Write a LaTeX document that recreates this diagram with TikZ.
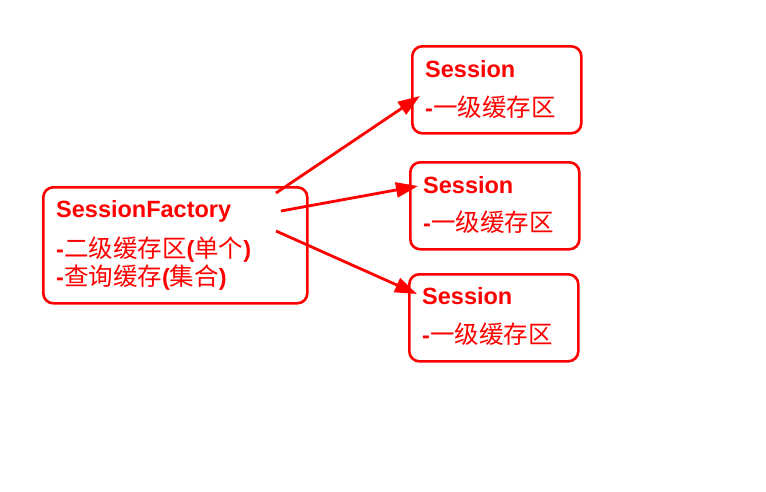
\documentclass[tikz,border=0pt]{standalone}
\usepackage{fontspec}
\setmainfont{Liberation Sans}
\newfontfamily\cjk{Noto Sans CJK SC}
\usetikzlibrary{arrows.meta}
\newcommand{\zh}[1]{{\fontsize{24.5}{28}\selectfont\cjk #1}}
\begin{document}
\begin{tikzpicture}[x=1pt,y=-1pt,
  box/.style={draw=red, line width=2.6pt, rounded corners=10pt, anchor=north west, inner sep=0pt},
  lbl/.style={anchor=base west, inner sep=0pt, text=red, font=\fontsize{23.5}{28}\selectfont\bfseries},
  txt/.style={anchor=base west, inner sep=0pt, text=red, font=\fontsize{23.5}{28}\selectfont},
  conn/.style={draw=red, line width=2.8pt, -{Triangle[length=22pt,width=15pt]}}]
\useasboundingbox (0,0) rectangle (766,491);
% boxes
\node[box, minimum width=264pt, minimum height=116pt] (sf) at (42,186) {};
\node[box, minimum width=169pt, minimum height=87pt] (s1) at (411,45) {};
\node[box, minimum width=169pt, minimum height=87pt] (s2) at (409,161) {};
\node[box, minimum width=169pt, minimum height=87pt] (s3) at (408,273) {};
% texts
\node[lbl] (sft) at (56,217) {SessionFactory};
\node[txt] (sfa) at (56,257) {\textbf{-}\zh{二级缓存区}\textbf{(}\zh{单个}\textbf{)}};
\node[txt] (sfb) at (56,285) {\textbf{-}\zh{查询缓存}\textbf{(}\zh{集合}\textbf{)}};
\node[lbl] (s1t) at (425,77) {Session};
\node[txt] (s1a) at (425,116) {\textbf{-}\zh{一级缓存区}};
\node[lbl] (s2t) at (423,193) {Session};
\node[txt] (s2a) at (423,231) {\textbf{-}\zh{一级缓存区}};
\node[lbl] (s3t) at (422,304) {Session};
\node[txt] (s3a) at (422,343) {\textbf{-}\zh{一级缓存区}};
% connector ends
\coordinate (a1) at (276,193);
\coordinate (a2) at (281,211);
\coordinate (a3) at (276,231);
\coordinate (b1) at (420,96);
\coordinate (b2) at (418,186);
\coordinate (b3) at (417,294);
\draw[conn] (a1) -- (b1);
\draw[conn] (a2) -- (b2);
\draw[conn] (a3) -- (b3);
\end{tikzpicture}
\end{document}
